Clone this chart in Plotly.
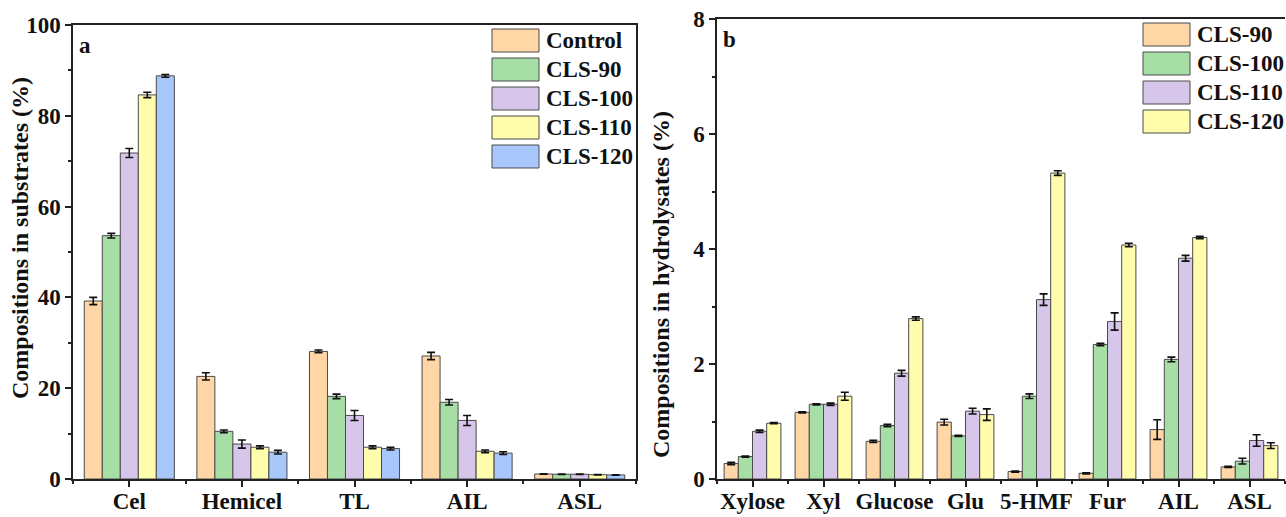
import plotly.graph_objects as go

W, H = 1286, 517

# ---------------- data ----------------
cats_a = ["Cel", "Hemicel", "TL", "AIL", "ASL"]
series_a = ["Control", "CLS-90", "CLS-100", "CLS-110", "CLS-120"]
vals_control = [39.2, 22.6, 28.1, 27.1, 1.1]
vals_cls90 = [53.6, 10.5, 18.2, 16.9, 1.05]
vals_cls100 = [71.8, 7.7, 14.0, 12.9, 1.05]
vals_cls110 = [84.6, 7.0, 7.0, 6.1, 0.95]
vals_cls120 = [88.8, 5.9, 6.7, 5.7, 0.9]
err_control = [0.8, 0.8, 0.3, 0.8, 0.05]
err_cls90 = [0.5, 0.3, 0.5, 0.6, 0.05]
err_cls100 = [1.0, 0.9, 1.1, 1.1, 0.05]
err_cls110 = [0.6, 0.3, 0.3, 0.3, 0.05]
err_cls120 = [0.3, 0.4, 0.3, 0.3, 0.05]

cats_b = ["Xylose", "Xyl", "Glucose", "Glu", "5-HMF", "Fur", "AIL", "ASL"]
series_b = ["CLS-90", "CLS-100", "CLS-110", "CLS-120"]
hyd_cls90 = [0.27, 1.16, 0.655, 0.99, 0.13, 0.10, 0.86, 0.21]
hyd_cls100 = [0.39, 1.30, 0.93, 0.75, 1.44, 2.34, 2.08, 0.31]
hyd_cls110 = [0.83, 1.30, 1.84, 1.18, 3.12, 2.74, 3.84, 0.67]
hyd_cls120 = [0.97, 1.44, 2.79, 1.12, 5.32, 4.07, 4.20, 0.58]
herr_cls90 = [0.02, 0.01, 0.02, 0.05, 0.01, 0.01, 0.17, 0.01]
herr_cls100 = [0.01, 0.01, 0.02, 0.01, 0.04, 0.02, 0.04, 0.05]
herr_cls110 = [0.02, 0.02, 0.05, 0.05, 0.10, 0.15, 0.05, 0.10]
herr_cls120 = [0.01, 0.07, 0.03, 0.10, 0.04, 0.03, 0.02, 0.05]

yticks_a = [0, 20, 40, 60, 80, 100]
yticks_b = [0, 2, 4, 6, 8]

# ---------------- style ----------------
C_OR, C_GR, C_PU, C_YE, C_BL = "#FFD6A6", "#A6DEA6", "#D6C6EA", "#FFFCAC", "#A8C8FC"
EDGE = "#4a4a4a"
FONT = "Liberation Serif"

colors_a = [C_OR, C_GR, C_PU, C_YE, C_BL]
colors_b = [C_OR, C_GR, C_PU, C_YE]

vals_a = [vals_control, vals_cls90, vals_cls100, vals_cls110, vals_cls120]
errs_a = [err_control, err_cls90, err_cls100, err_cls110, err_cls120]
vals_b = [hyd_cls90, hyd_cls100, hyd_cls110, hyd_cls120]
errs_b = [herr_cls90, herr_cls100, herr_cls110, herr_cls120]

def px_x(p):
    return p / W

def px_y(p):
    return 1 - p / H

fig = go.Figure()

xa = list(range(1, len(cats_a) + 1))
for name, v, e, c in zip(series_a, vals_a, errs_a, colors_a):
    fig.add_trace(go.Bar(
        x=xa, y=v, name=name, xaxis="x", yaxis="y",
        marker=dict(color=c, line=dict(color=EDGE, width=1)),
        error_y=dict(type="data", array=e, color="#111", thickness=1.6, width=4),
        offsetgroup=name, showlegend=False))

xb = list(range(1, len(cats_b) + 1))
for name, v, e, c in zip(series_b, vals_b, errs_b, colors_b):
    fig.add_trace(go.Bar(
        x=xb, y=v, name=name, xaxis="x2", yaxis="y2",
        marker=dict(color=c, line=dict(color=EDGE, width=1)),
        error_y=dict(type="data", array=e, color="#111", thickness=1.6, width=4),
        offsetgroup=name, showlegend=False))

tickfont = dict(family=FONT, size=23, color="#111", weight="bold")
axline = dict(showline=True, linecolor="#222", linewidth=1.5, showgrid=False,
              zeroline=False, ticks="outside", tickcolor="#222", tickwidth=1.5,
              automargin=False)

fig.update_layout(
    template="none",
    width=W, height=H, autosize=False,
    margin=dict(l=0, r=0, t=0, b=0, pad=0),
    paper_bgcolor="white", plot_bgcolor="white",
    barmode="group", bargap=0.2, bargroupgap=0,
    showlegend=False,
    xaxis=dict(domain=[px_x(73), px_x(636)], range=[0.5, len(cats_a) + 0.5],
               tickmode="array", tickvals=xa, ticktext=cats_a, ticklen=6,
               ticklabelstandoff=-5,
               tickfont=tickfont, mirror=True, anchor="y",
               minor=dict(tickmode="linear", tick0=0.5, dtick=1, ticks="outside",
                          ticklen=3, tickcolor="#222", tickwidth=1.5, showgrid=False),
               **axline),
    yaxis=dict(domain=[px_y(479), px_y(25)], range=[0, 100],
               tickmode="array", tickvals=yticks_a, ticklen=6,
               tickfont=tickfont, mirror=True, anchor="x",
               minor=dict(tickmode="linear", tick0=10, dtick=20, ticks="outside",
                          ticklen=3, tickcolor="#222", tickwidth=1.5, showgrid=False),
               **axline),
    xaxis2=dict(domain=[px_x(717), px_x(1285)], range=[0.5, len(cats_b) + 0.5],
                tickmode="array", tickvals=xb, ticktext=cats_b, ticklen=6,
                ticklabelstandoff=-5,
                tickfont=tickfont, mirror=True, anchor="y2",
                minor=dict(tickmode="linear", tick0=0.5, dtick=1, ticks="outside",
                           ticklen=3, tickcolor="#222", tickwidth=1.5, showgrid=False),
                **axline),
    yaxis2=dict(domain=[px_y(479), px_y(19)], range=[0, 8],
                tickmode="array", tickvals=yticks_b, ticklen=6,
                tickfont=tickfont, mirror=False, anchor="x2",
                minor=dict(tickmode="linear", tick0=1, dtick=2, ticks="outside",
                           ticklen=3, tickcolor="#222", tickwidth=1.5, showgrid=False),
                **axline),
)

titlefont = dict(family=FONT, size=24, color="#111")
ann = []
ann.append(dict(text="<b>Compositions in substrates (%)</b>", x=px_x(20), y=px_y(238),
                xref="paper", yref="paper", textangle=-90, showarrow=False,
                font=titlefont, xanchor="center", yanchor="middle"))
ann.append(dict(text="<b>Compositions in hydrolysates (%)</b>", x=px_x(661), y=px_y(284),
                xref="paper", yref="paper", textangle=-90, showarrow=False,
                font=titlefont, xanchor="center", yanchor="middle"))
ann.append(dict(text="<b>a</b>", x=px_x(77), y=px_y(45), xref="paper", yref="paper",
                showarrow=False, font=dict(family=FONT, size=23, color="#111"),
                xanchor="left", yanchor="middle"))
ann.append(dict(text="<b>b</b>", x=px_x(721), y=px_y(39), xref="paper", yref="paper",
                showarrow=False, font=dict(family=FONT, size=23, color="#111"),
                xanchor="left", yanchor="middle"))

shapes = []
legfont = dict(family=FONT, size=23, color="#111")
# legend a
for i, (name, c) in enumerate(zip(series_a, colors_a)):
    cy = 40.5 + 29 * i
    shapes.append(dict(type="rect", xref="paper", yref="paper",
                       x0=px_x(492), x1=px_x(539), y0=px_y(cy + 11.5), y1=px_y(cy - 11.5),
                       fillcolor=c, line=dict(color=EDGE, width=1)))
    ann.append(dict(text="<b>%s</b>" % name, x=px_x(544), y=px_y(cy), xref="paper",
                    yref="paper", showarrow=False, font=legfont,
                    xanchor="left", yanchor="middle"))
# legend b
for i, (name, c) in enumerate(zip(series_b, colors_b)):
    cy = 34.5 + 29 * i
    shapes.append(dict(type="rect", xref="paper", yref="paper",
                       x0=px_x(1143), x1=px_x(1190), y0=px_y(cy + 11.5), y1=px_y(cy - 11.5),
                       fillcolor=c, line=dict(color=EDGE, width=1)))
    ann.append(dict(text="<b>%s</b>" % name, x=px_x(1195), y=px_y(cy), xref="paper",
                    yref="paper", showarrow=False, font=legfont,
                    xanchor="left", yanchor="middle"))

fig.update_layout(annotations=ann, shapes=shapes)
fig.write_html("out.html")
